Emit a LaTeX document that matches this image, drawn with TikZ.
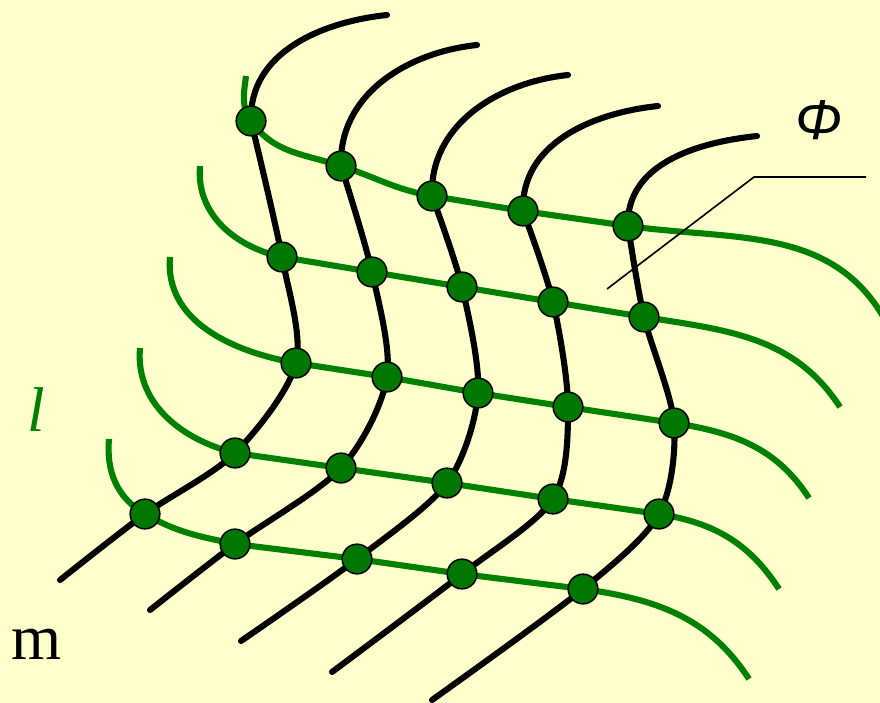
\documentclass[tikz,border=0pt]{standalone}
\usepackage{fontspec}
\setmainfont{Liberation Serif}
\newfontfamily\phifont{Liberation Sans}
\usetikzlibrary{positioning}
\definecolor{paper}{RGB}{255,255,204}
\definecolor{lgreen}{RGB}{0,128,0}
\definecolor{dgreen}{RGB}{0,120,0}

\begin{document}
\begin{tikzpicture}[x=0.3mm,y=0.3mm,
    bline/.style={line width=5.2pt,black,line cap=round},
    gline/.style={line width=5.2pt,lgreen},
    dot/.style={circle,draw=black,line width=1.3pt,fill=dgreen,minimum size=8.9mm,inner sep=0pt},
    leader/.style={line width=1.4pt}]
  \fill[paper] (0,0) rectangle (880,-703);
  \useasboundingbox (0,0) rectangle (880,-703);
  % ---- crossing points (black i, green j) ----
  \foreach \x/\y [count=\i] in {251/121,341/166,432/196,523/211,628/226}
    \coordinate (p\i1) at (\x,-\y);
  \foreach \x/\y [count=\i] in {282/257,372/272,462/287,553/302,644/317}
    \coordinate (p\i2) at (\x,-\y);
  \foreach \x/\y [count=\i] in {296/363,387/377,478/393,568/407,674/423}
    \coordinate (p\i3) at (\x,-\y);
  \foreach \x/\y [count=\i] in {235/453,341/468,447/483,553/499,659/514}
    \coordinate (p\i4) at (\x,-\y);
  \foreach \x/\y [count=\i] in {145/514,235/544,357/559,462/574,583/589}
    \coordinate (p\i5) at (\x,-\y);
  % ---- free ends ----
  \foreach \x/\y [count=\i] in {387/15,477/45,568/75,658/106,757/136}
    \coordinate (t\i) at (\x,-\y);
  \foreach \x/\y [count=\i] in {60/580,150/610,241/641,332/672,432/700}
    \coordinate (b\i) at (\x,-\y);
  \foreach \x/\y [count=\j] in {246/76,200/166,170/257,140/348,109/439}
    \coordinate (s\j) at (\x,-\y);
  \foreach \x/\y [count=\j] in {884/318,840/407,809/498,779/589,749/679}
    \coordinate (e\j) at (\x,-\y);
  % ---- green lines ----
  \draw[gline] (s1) to[out=-97,in=125] (p11) to[out=-55,in=162] (p21)
    to[out=-18,in=170] (p31) -- (p41) -- (p51) to[out=-8,in=120] (e1);
  \foreach \j/\a in {2/168,3/170,4/166}
    \draw[gline] (s\j) to[out=-95,in=\a] (p1\j) -- (p2\j) -- (p3\j) -- (p4\j) -- (p5\j)
      to[out=-9,in=123] (e\j);
  \draw[gline] (s5) to[out=-95,in=150] (p15) to[out=-30,in=168] (p25)
    -- (p35) -- (p45) -- (p55) to[out=-8,in=123] (e5);
  % ---- black lines ----
  \foreach \i in {1,...,5}
    \draw[bline] (t\i) to[out=186,in=92] (p\i1)
      plot[smooth] coordinates {(p\i1) (p\i2) (p\i3) (p\i4) (p\i5) (b\i)};
  % ---- dots ----
  \foreach \i in {1,...,5}
    \foreach \j in {1,...,5}
      \node[dot] (d\i\j) at (p\i\j) {};
  % ---- labels ----
  \node[lgreen,font=\fontsize{54}{60}\selectfont\itshape,inner sep=0pt] (l) at (36,-410) {l};
  \node[font=\fontsize{55}{60}\selectfont,inner sep=0pt] (m) at (37,-644) {m};
  \node[font=\phifont\fontsize{48}{54}\selectfont\itshape,inner sep=0pt] (phi) at (819,-120) {Φ};
  \coordinate (tip) at (607,-289);
  \coordinate (knee) at (754,-177);
  \coordinate (tail) at (866,-177);
  \draw[leader] (tip) -- (knee) -- (tail);
\end{tikzpicture}
\end{document}
